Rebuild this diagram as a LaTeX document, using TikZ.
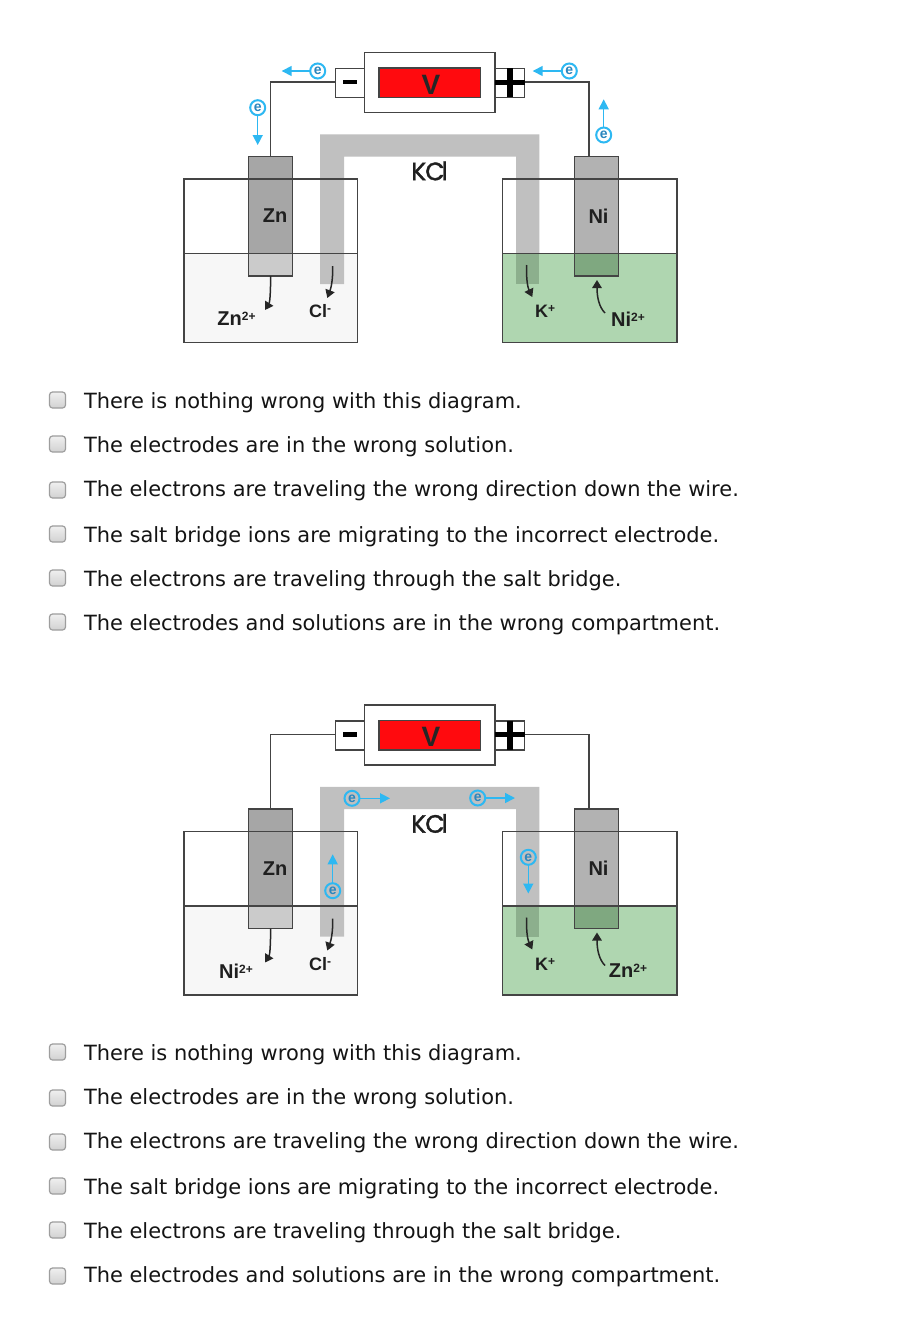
\documentclass[tikz,border=0pt]{standalone}
\usepackage{fontspec}
\setmainfont{DejaVu Sans}
\newfontfamily\labelfont{Liberation Sans}[BoldFont={Liberation Sans Bold}]
\newfontfamily\kclfont{Poppins}[FakeBold=1.6]
\usetikzlibrary{arrows.meta,shadings}
\definecolor{wirec}{HTML}{444444}
\definecolor{eblue}{HTML}{2DB8F2}
\definecolor{edark}{HTML}{2A86BE}
\definecolor{bridgec}{HTML}{C0C0C0}
\definecolor{bridgeg}{HTML}{8CAF8D}
\definecolor{greenc}{HTML}{AFD6B0}
\definecolor{whitesol}{HTML}{F7F7F7}
\definecolor{znup}{HTML}{A6A6A6}
\definecolor{znlo}{HTML}{CBCBCB}
\definecolor{niup}{HTML}{B2B2B2}
\definecolor{nilo}{HTML}{7FA880}
\definecolor{redc}{HTML}{FF0A0E}
\tikzset{
  outl/.style={draw=wirec,line width=1.5pt},
  boxn/.style={outl,rectangle,inner sep=0pt,outer sep=0pt},
  fillonly/.style={rectangle,inner sep=0pt,outer sep=0pt,draw=none},
  wire/.style={draw=wirec,line width=1.5pt},
  ion/.style={draw=black!85,line width=1.5pt,-{Triangle[length=8pt,width=9.5pt]}},
  eflow/.style={draw=eblue,line width=1.5pt,-{Triangle[length=10pt,width=10pt]}},
  ecirc/.style={circle,draw=eblue,line width=2pt,minimum size=15pt,inner sep=0pt,outer sep=0pt,text=edark,font=\labelfont\bfseries\fontsize{14}{14}\selectfont},
  lab/.style={inner sep=0pt,outer sep=0pt,text=black!88,font=\labelfont\bfseries\fontsize{20}{20}\selectfont},
  labs/.style={inner sep=0pt,outer sep=0pt,text=black!88,font=\labelfont\bfseries\fontsize{18}{18}\selectfont},
  kcl/.style={inner sep=0pt,outer sep=0pt,text=black!88,font=\kclfont\fontsize{25}{25}\selectfont},
  checkb/.style={rectangle,rounded corners=3pt,draw=black!38,line width=1.2pt,top color=black!6,bottom color=black!18,minimum width=16pt,minimum height=16pt,inner sep=0pt,outer sep=0pt},
  choice/.style={anchor=base west,inner sep=0pt,outer sep=0pt,text=black!92,font=\fontsize{20.95}{24}\selectfont},
}
\newcommand{\supsize}{\fontsize{12}{12}\selectfont}
\newcommand{\cellbase}{%
  % solutions
  \node[fillonly,fill=whitesol,minimum width=173.3pt,minimum height=89.4pt] (solL) at (270.65,298) {};
  \node[fillonly,fill=greenc,minimum width=174.7pt,minimum height=89.4pt] (solR) at (589.65,298) {};
  % salt bridge
  \fill[bridgec] (320,284) -- (320,134.3) -- (539.3,134.3) -- (539.3,253.3) -- (516,253.3) -- (516,156.7) -- (344,156.7) -- (344,284) -- cycle;
  \fill[bridgeg] (516,253.3) rectangle (539.3,284);
  % electrodes
  \node[fillonly,fill=znlo,minimum width=44pt,minimum height=119.3pt] (zn) at (270.7,216.35) {};
  \fill[znup] (248.7,156.7) rectangle (292.7,253.3);
  \node[fillonly,fill=niup,minimum width=44pt,minimum height=119.3pt] (ni) at (596.3,216.35) {};
  \fill[nilo] (574.3,253.3) rectangle (618.3,276);
  \draw[outl] (zn.north west) rectangle (zn.south east);
  \draw[outl] (ni.north west) rectangle (ni.south east);
  % beakers
  \draw[outl] (184,179) rectangle (357.3,342.7);
  \draw[outl] (184,253.3) -- (357.3,253.3);
  \draw[outl] (502.3,179) rectangle (677,342.7);
  \draw[outl] (502.3,253.3) -- (677,253.3);
  % meter
  \node[boxn,fill=white,minimum width=130.7pt,minimum height=59.6pt] (meter) at (429.65,82.5) {};
  \node[boxn,fill=redc,minimum width=101.7pt,minimum height=29.3pt] (red) at (429.85,82.65) {};
  \node[inner sep=0pt,outer sep=0pt,text=black!85,font=\labelfont\bfseries\fontsize{28}{28}\selectfont] (vlab) at (431,84.5) {V};
  \node[boxn,fill=white,minimum width=28.6pt,minimum height=29pt] (neg) at (350,82.8) {};
  \node[boxn,fill=white,minimum width=29.7pt,minimum height=29pt] (pos) at (509.85,82.8) {};
  \node[fillonly,fill=black,minimum width=13.7pt,minimum height=4.5pt] (minus) at (349.85,82) {};
  \node[fillonly,fill=black,minimum width=29.7pt,minimum height=5pt] (plush) at (509.85,82) {};
  \node[fillonly,fill=black,minimum width=6.5pt,minimum height=29pt] (plusv) at (510,82.8) {};
  % wires
  \coordinate (wirel) at (270.7,82);
  \coordinate (wirer) at (589,82);
  \coordinate (nitop) at (589,156.7);
  \draw[wire] (neg.west |- wirel) -- (wirel) -- (zn.north);
  \draw[wire] (pos.east |- wirer) -- (wirer) -- (nitop);
  % labels
  \node[lab] (znlab) at (275,216) {Zn};
  \node[lab] (nilab) at (598.5,216) {Ni};
  \node[kcl] (kcllab) at (429.5,171) {K\kern-1pt C\kern-3pt l};
  % ion arrows
  \coordinate (clfrom) at (332.7,266);
  \coordinate (clto) at (327.3,298);
  \coordinate (kfrom) at (526.7,265);
  \coordinate (kto) at (532.3,297);
  \draw[ion] (clfrom) .. controls (333,280) and (331,288) .. (clto);
  \draw[ion] (kfrom) .. controls (526,280) and (528,288) .. (kto);
  \coordinate (znto) at (265,310);
  \draw[ion] (zn.south) .. controls (270.5,292) and (270,302) .. (znto);
  \coordinate (nifrom) at (605,313);
  \coordinate (nito) at (597,280);
  \draw[ion] (nifrom) .. controls (599,307) and (597,297) .. (nito);
  \node[labs] (cllab) at (320,311.5) {Cl\raisebox{5pt}{\supsize-}};
  \node[labs] (klab) at (545,311.5) {K\raisebox{5pt}{\supsize+}};
}
\newcommand{\elec}[5]{% name, x, y, tip x, tip y
  \node[ecirc] (#1) at (#2,#3) {e};
  \coordinate (#1t) at (#4,#5);
  \draw[eflow] (#1) -- (#1t);
}
\newcommand{\ChA}{There is nothing wrong with this diagram.}
\newcommand{\ChB}{The electrodes are in the wrong solution.}
\newcommand{\ChC}{The electrons are traveling the wrong direction down the wire.}
\newcommand{\ChD}{The salt bridge ions are migrating to the incorrect electrode.}
\newcommand{\ChE}{The electrons are traveling through the salt bridge.}
\newcommand{\ChF}{The electrodes and solutions are in the wrong compartment.}
\newcommand{\row}[4]{% name, box y, baseline y, text
  \node[checkb] (b#1) at (57.5,#2) {};
  \node[choice] (t#1) at (84,#3) {#4};
}
\begin{document}
\begin{tikzpicture}[x=1pt,y=-1pt]
\useasboundingbox[fill=white] (0,0) rectangle (924,1334);
\begin{scope}[name prefix=a-]
  \cellbase
  \node[lab] (ionl) at (236.5,319) {Zn\raisebox{5pt}{\supsize 2+}};
  \node[lab] (ionr) at (628,319) {Ni\raisebox{5pt}{\supsize 2+}};
  \elec{e1}{317.7}{71}{281.7}{71}
  \elec{e2}{257.7}{107.7}{257.7}{145}
  \elec{e3}{569.3}{71}{532.7}{71}
  \elec{e4}{603.7}{135}{603.7}{99.3}
\end{scope}
\begin{scope}[name prefix=b-,yshift=-652.5pt]
  \cellbase
  \node[lab] (ionl) at (236,319) {Ni\raisebox{5pt}{\supsize 2+}};
  \node[lab] (ionr) at (628,318) {Zn\raisebox{5pt}{\supsize 2+}};
  \elec{e1}{352}{145.8}{390}{145.8}
  \elec{e2}{477.7}{145.5}{515}{145.5}
  \elec{e3}{528.3}{204.8}{528.3}{241}
  \elec{e4}{332.7}{238.2}{332.7}{201.8}
\end{scope}
\begin{scope}[name prefix=c-]
  \row{1}{400}{408}{\ChA}
  \row{2}{444}{452}{\ChB}
  \row{3}{490}{496}{\ChC}
  \row{4}{534}{542}{\ChD}
  \row{5}{578}{586}{\ChE}
  \row{6}{622}{630}{\ChF}
\end{scope}
\begin{scope}[name prefix=d-]
  \row{1}{1052}{1060}{\ChA}
  \row{2}{1098}{1104}{\ChB}
  \row{3}{1142}{1148}{\ChC}
  \row{4}{1186}{1194}{\ChD}
  \row{5}{1230}{1238}{\ChE}
  \row{6}{1276}{1282}{\ChF}
\end{scope}
\end{tikzpicture}
\end{document}
